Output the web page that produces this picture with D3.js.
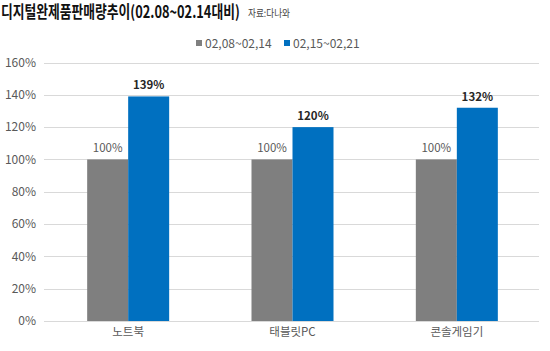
<!DOCTYPE html>
<html><head><meta charset="utf-8">
<script src="https://cdn.jsdelivr.net/npm/d3@7"></script>
<style>body{margin:0;background:#fff}svg{display:block}</style>
</head><body>
<svg id="c" width="550" height="351"></svg>
<script>
const categories = ["노트북", "태블릿PC", "콘솔게임기"];
const seriesNames = ["02,08~02,14", "02,15~02,21"];
const base = [100, 100, 100];
const current = [139, 120, 132];
const yTicks = [0, 20, 40, 60, 80, 100, 120, 140, 160];
const colors = ["#7f7f7f", "#0070c0"];

(function () {
const svg = d3.select("#c");
const font = "'Noto Sans CJK KR', 'Noto Sans', sans-serif";
const pLeft = 46, pRight = 539, pTop = 62.5, pBottom = 321;

const x = d3.scaleBand().domain(categories).range([pLeft, pRight]).paddingInner(0).paddingOuter(0);
const y = d3.scaleLinear().domain([0, 160]).range([pBottom, pTop]);
const inner = d3.scaleBand().domain([0, 1]).range([0, 82]);

// gridlines
svg.append("g").selectAll("line").data(yTicks).join("line")
  .attr("x1", 44).attr("x2", pRight).attr("y1", d => Math.round(y(d)) + 0.5).attr("y2", d => Math.round(y(d)) + 0.5)
  .attr("stroke", "#d9d9d9").attr("stroke-width", 1);

// y axis labels
const yAxis = d3.axisLeft(y).tickValues(yTicks).tickFormat(d => d + "%").tickSize(0).tickPadding(0);
const ga = svg.append("g").attr("transform", "translate(36,0)").call(yAxis);
ga.select(".domain").remove();
ga.selectAll("text").attr("font-family", font).attr("font-size", 12).attr("fill", "#595959");

// bars
const data = categories.map((c, i) => ({c, vals: [base[i], current[i]]}));
const groups = svg.append("g").selectAll("g").data(data).join("g")
  .attr("transform", d => `translate(${x(d.c) + x.bandwidth() / 2 - 41},0)`);
groups.selectAll("rect").data(d => d.vals.map((v, k) => ({v, k}))).join("rect")
  .attr("x", d => inner(d.k)).attr("width", inner.bandwidth())
  .attr("y", d => y(d.v)).attr("height", d => y(0) - y(d.v))
  .attr("fill", d => colors[d.k]);
groups.selectAll("text").data(d => d.vals.map((v, k) => ({v, k}))).join("text")
  .attr("x", d => inner(d.k) + inner.bandwidth() / 2)
  .attr("y", d => y(d.v) - 7)
  .attr("text-anchor", "middle")
  .attr("font-family", font).attr("font-size", 11.5)
  .attr("font-weight", d => d.k === 1 ? "bold" : "normal")
  .attr("fill", d => d.k === 1 ? "#262626" : "#595959")
  .text(d => d.v + "%");

// x axis labels
const xAxis = d3.axisBottom(x).tickSize(0).tickPadding(0);
const gx = svg.append("g").attr("transform", `translate(0,${pBottom + 5})`).call(xAxis);
gx.select(".domain").remove();
gx.selectAll("text").attr("font-family", font).attr("font-size", 11.5).attr("fill", "#595959").attr("dy", "0.9em");

// title (horizontally condensed like the reference face)
const title = svg.append("text").attr("x", 0).attr("y", 0).attr("font-family", font).attr("font-size", 16.5)
  .attr("font-weight", "bold").attr("fill", "#111")
  .text("디지털완제품판매량추이(02.08~02.14대비)");
const tw = title.node().getComputedTextLength();
title.attr("transform", `translate(1,18) scale(${239 / tw},1)`);

const src = svg.append("text").attr("x", 0).attr("y", 0).attr("font-family", font).attr("font-size", 10)
  .attr("fill", "#444").text("자료:다나와");
const sw = src.node().getComputedTextLength();
src.attr("transform", `translate(248,17) scale(${42 / sw},1)`);

// legend
const legX = [196, 284];
const lg = svg.append("g").selectAll("g").data(seriesNames).join("g")
  .attr("transform", (d, i) => `translate(${legX[i]},43)`);
lg.append("rect").attr("x", 0).attr("y", -3).attr("width", 6).attr("height", 6).attr("fill", (d, i) => colors[i]);
lg.append("text").attr("x", 9).attr("y", 4.5).attr("font-family", font).attr("font-size", 12)
  .attr("fill", "#595959").text(d => d);
})();
</script>
</body></html>
